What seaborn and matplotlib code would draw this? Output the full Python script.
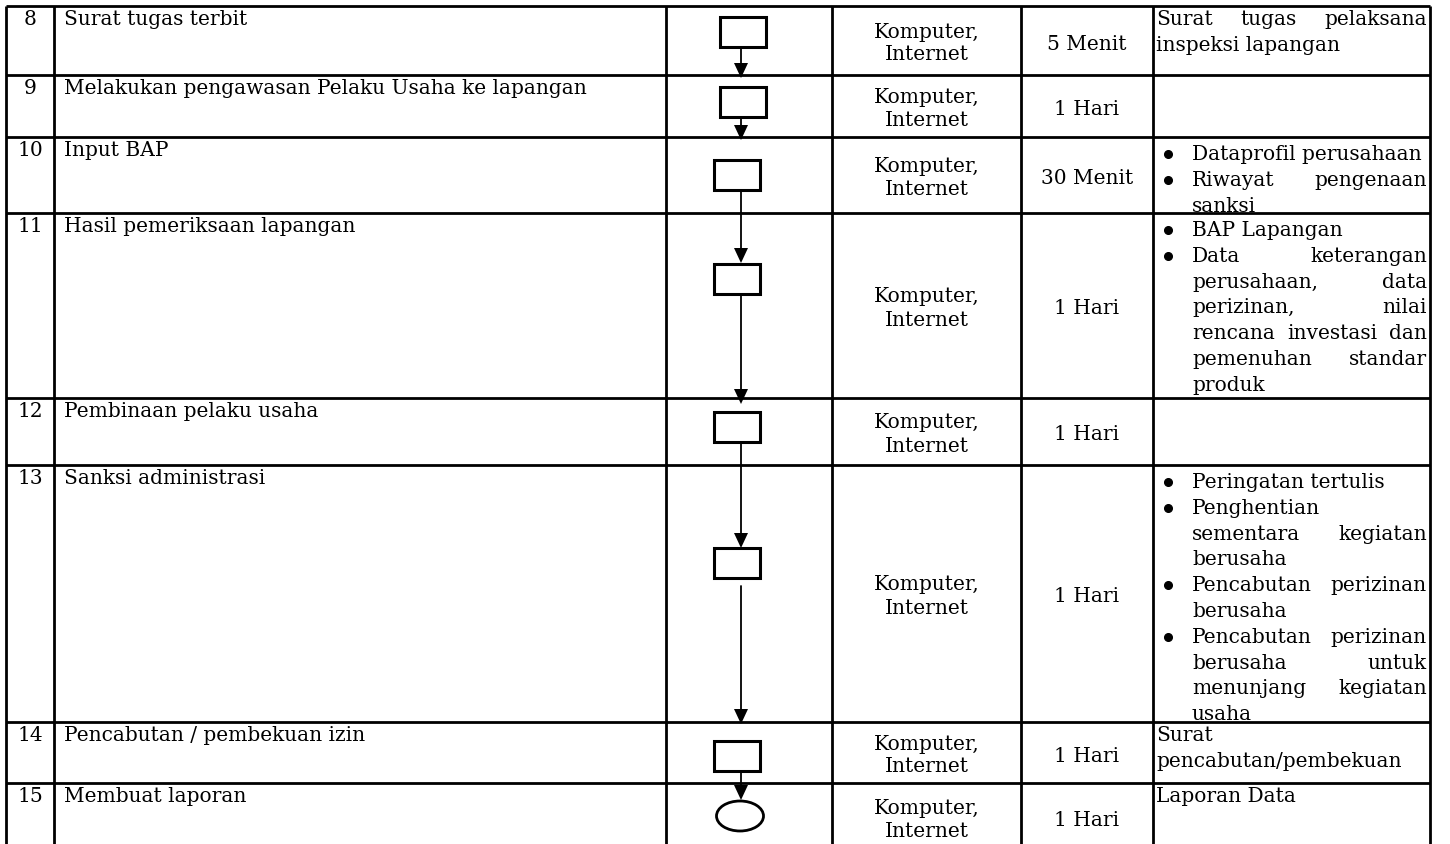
import matplotlib
matplotlib.use("Agg")
import matplotlib.pyplot as plt
from matplotlib.patches import Rectangle, Ellipse, Polygon
import seaborn as sns

# isi tabel SOP (langkah 8 - 15)
nomor = [8, 9, 10, 11, 12, 13, 14, 15]
kegiatan = [
    "Surat tugas terbit",
    "Melakukan pengawasan Pelaku Usaha ke lapangan",
    "Input BAP",
    "Hasil pemeriksaan lapangan",
    "Pembinaan pelaku usaha",
    "Sanksi administrasi",
    "Pencabutan / pembekuan izin",
    "Membuat laporan",
]
kelengkapan = ["Komputer,\nInternet"] * 8
waktu = ["5 Menit", "1 Hari", "30 Menit", "1 Hari", "1 Hari", "1 Hari", "1 Hari", "1 Hari"]
simbol = ["box", "box", "box", "box", "box", "box", "box", "ellipse"]

# output: (jenis, baris-baris teks sesuai pemenggalan di dokumen)
output = [
    [("p", ["Surat tugas pelaksana", "inspeksi lapangan"])],
    [],
    [("b", ["Dataprofil perusahaan"]),
     ("b", ["Riwayat pengenaan", "sanksi"])],
    [("b", ["BAP Lapangan"]),
     ("b", ["Data keterangan", "perusahaan, data", "perizinan, nilai",
            "rencana investasi dan", "pemenuhan standar", "produk"])],
    [],
    [("b", ["Peringatan tertulis"]),
     ("b", ["Penghentian", "sementara kegiatan", "berusaha"]),
     ("b", ["Pencabutan perizinan", "berusaha"]),
     ("b", ["Pencabutan perizinan", "berusaha untuk", "menunjang kegiatan", "usaha"])],
    [("p", ["Surat", "pencabutan/pembekuan"])],
    [("p", ["Laporan Data"])],
]

# layout (pixel)
W, H = 1450, 844
col_x = [6, 54, 666, 832, 1021, 1153, 1430]
row_top = [6, 75, 137, 213, 398, 465, 722, 783, 851]
shape_top = [17, 87, 160, 264, 412, 548, 741, 801]
shape_cx = [743, 743, 737, 737, 737, 737, 737, 740]
arrow_x = 741
arrow_tip = [78, 140, 263, 404, 548, 724, 800]
arrow_gap = [0, 0, 0, 0, 0, 8, 0]
LH = 25.8
FS = 14.5

sns.set_theme(style="white")
plt.rcParams["font.family"] = ["DejaVu Serif"]
plt.rcParams["text.color"] = "black"

fig = plt.figure(figsize=(W / 100, H / 100), dpi=100)
ax = fig.add_axes([0, 0, 1, 1])
ax.set_xlim(0, W)
ax.set_ylim(H, 0)
ax.axis("off")
renderer = fig.canvas.get_renderer()

lw = 2.0
for x in col_x:
    ax.plot([x, x], [row_top[0], H], color="black", lw=lw, solid_capstyle="butt")
for y in row_top[:-1]:
    ax.plot([col_x[0], col_x[-1]], [y, y], color="black", lw=lw, solid_capstyle="butt")


def txt(x, y, s, ha="left"):
    return ax.text(x, y, s, fontsize=FS, ha=ha, va="baseline", color="black")


def text_w(s):
    t = txt(0, 0, s)
    w = t.get_window_extent(renderer).width
    t.remove()
    return w


def draw_line(x0, x1, y, line, justify):
    words = line.split(" ")
    if not justify or len(words) < 2:
        txt(x0, y, line)
        return
    widths = [text_w(w) for w in words]
    gap = (x1 - x0 - sum(widths)) / (len(words) - 1)
    x = x0
    for w, wd in zip(words, widths):
        txt(x, y, w)
        x += wd + gap


for i in range(len(nomor)):
    top, bot = row_top[i], row_top[i + 1]
    mid = (top + bot) / 2
    txt((col_x[0] + col_x[1]) / 2, top + 19, str(nomor[i]), ha="center")
    txt(col_x[1] + 10, top + 19, kegiatan[i])

    l1, l2 = kelengkapan[i].split("\n")
    cx = (col_x[3] + col_x[4]) / 2
    txt(cx, mid - 12 + 9, l1, ha="center")
    txt(cx, mid + 11 + 9, l2, ha="center")
    txt((col_x[4] + col_x[5]) / 2, mid + 9, waktu[i], ha="center")

    # kolom output
    items = output[i]
    if items:
        y = top + (23 if items[0][0] == "b" else 19)
        for kind, lines in items:
            x0 = col_x[5] + 39 if kind == "b" else col_x[5] + 3
            if kind == "b":
                ax.plot(col_x[5] + 15, y - 6, "o", color="black", ms=5.5)
            for j, line in enumerate(lines):
                draw_line(x0, col_x[6] - 3, y, line, j < len(lines) - 1)
                y += LH

    # simbol flowchart
    if simbol[i] == "box":
        ax.add_patch(Rectangle((shape_cx[i] - 23, shape_top[i]), 46, 30, fill=False,
                               ec="black", lw=2.2))
    else:
        ax.add_patch(Ellipse((shape_cx[i], shape_top[i] + 15), 47, 30, fill=False,
                             ec="black", lw=2.0))

# panah antar langkah
for i in range(len(arrow_tip)):
    y0 = shape_top[i] + 30 + arrow_gap[i]
    tip = arrow_tip[i]
    ax.plot([arrow_x, arrow_x], [y0, tip - 14], color="black", lw=1.3)
    ax.add_patch(Polygon([[arrow_x - 7, tip - 15], [arrow_x + 7, tip - 15], [arrow_x, tip]],
                         closed=True, color="black", lw=0))

fig.savefig("out.png", dpi=100)
